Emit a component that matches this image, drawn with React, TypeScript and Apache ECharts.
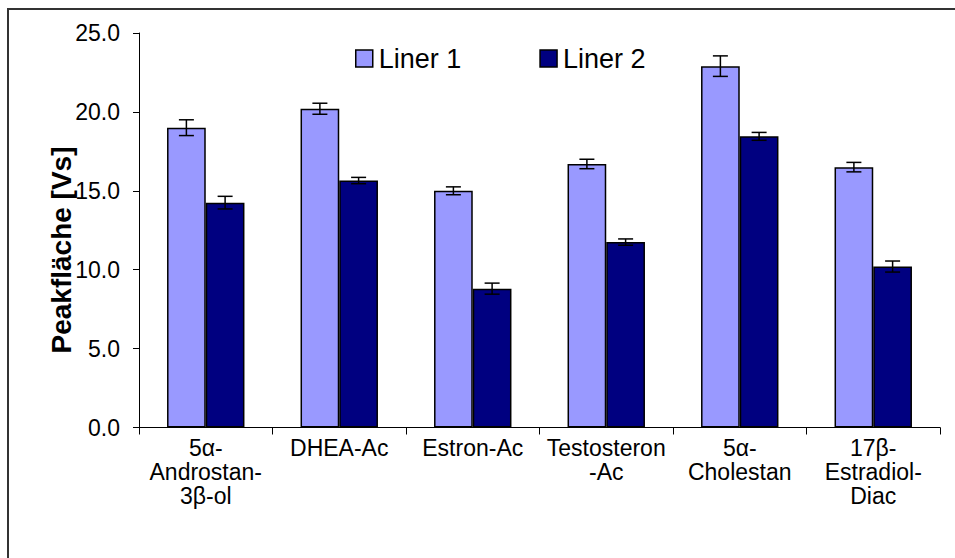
import React, { useEffect, useRef } from "react";
import * as echarts from "echarts";

const categories = [
  "5α-\nAndrostan-\n3β-ol",
  "DHEA-Ac",
  "Estron-Ac",
  "Testosteron\n-Ac",
  "5α-\nCholestan",
  "17β-\nEstradiol-\nDiac",
];
const liner1 = [19.0, 20.2, 15.0, 16.7, 22.9, 16.5];
const liner1Err = [0.5, 0.35, 0.25, 0.3, 0.65, 0.3];
const liner2 = [14.25, 15.65, 8.8, 11.75, 18.45, 10.2];
const liner2Err = [0.4, 0.2, 0.35, 0.2, 0.25, 0.35];
const yTicks = { min: 0, max: 25, interval: 5 };

const FONT = "'Liberation Sans', Arial, sans-serif";
const CAT_GAP = 0.42;

function errorSeries(name: string, vals: number[], errs: number[], side: number) {
  return {
    type: "custom",
    name: name + " err",
    z: 5,
    silent: true,
    encode: { x: 0, y: 1 },
    data: vals.map((v, i) => [i, v, errs[i]]),
    renderItem: (params: any, api: any) => {
      const idx = api.value(0);
      const val = api.value(1);
      const err = api.value(2);
      const band = api.size([1, 0])[0];
      const barW = (band * (1 - CAT_GAP)) / 2;
      const c = api.coord([idx, val]);
      const x = c[0] + side * barW / 2;
      const top = api.coord([idx, val + err])[1];
      const bot = api.coord([idx, val - err])[1];
      const cap = 7.5;
      const st = { stroke: "#000", lineWidth: 1.5 };
      return {
        type: "group",
        children: [
          { type: "line", shape: { x1: x, y1: top, x2: x, y2: bot }, style: st },
          { type: "line", shape: { x1: x - cap, y1: top, x2: x + cap, y2: top }, style: st },
          { type: "line", shape: { x1: x - cap, y1: bot, x2: x + cap, y2: bot }, style: st },
        ],
      };
    },
  };
}

export default function App() {
  const ref = useRef<HTMLDivElement>(null);
  useEffect(() => {
    if (!ref.current) return;
    const chart = echarts.init(ref.current, undefined, { renderer: "svg" });
    chart.setOption({
      animation: false,
      backgroundColor: "#fff",
      textStyle: { fontFamily: FONT },
      grid: { left: 139, right: 15, top: 33, bottom: 130.5, containLabel: false },
      legend: {
        data: ["Liner 1", "Liner 2"],
        left: 350,
        top: 40,
        icon: "rect",
        itemWidth: 17,
        itemHeight: 17,
        itemGap: 78,
        itemStyle: { borderColor: "#000", borderWidth: 1.5 },
        textStyle: { fontSize: 27, color: "#000", fontFamily: FONT, padding: [0, 0, 0, 1] },
      },
      xAxis: {
        type: "category",
        data: categories,
        axisLine: { lineStyle: { color: "#000", width: 1 } },
        axisTick: { show: true, interval: 0, length: 7, lineStyle: { color: "#000" } },
        axisLabel: {
          interval: 0,
          fontSize: 23,
          lineHeight: 24,
          margin: 8,
          color: "#000",
          fontFamily: FONT,
        },
      },
      yAxis: {
        type: "value",
        min: yTicks.min,
        max: yTicks.max,
        interval: yTicks.interval,
        axisLine: { show: true, lineStyle: { color: "#000", width: 1 } },
        axisTick: { show: true, length: 6, lineStyle: { color: "#000" } },
        splitLine: { show: false },
        axisLabel: {
          fontSize: 23,
          color: "#000",
          margin: 19,
          fontFamily: FONT,
          formatter: (v: number) => v.toFixed(1),
        },
      },
      series: [
        {
          type: "bar",
          name: "Liner 1",
          data: liner1,
          barGap: "0%",
          barCategoryGap: "42%",
          itemStyle: { color: "#9999FF", borderColor: "#000", borderWidth: 1.5 },
        },
        {
          type: "bar",
          name: "Liner 2",
          data: liner2,
          barGap: "0%",
          barCategoryGap: "42%",
          itemStyle: { color: "#000080", borderColor: "#000", borderWidth: 1.5 },
        },
        errorSeries("Liner 1", liner1, liner1Err, -1),
        errorSeries("Liner 2", liner2, liner2Err, 1),
      ],
      graphic: [
        {
          type: "rect",
          silent: true,
          shape: { x: 8, y: 9, width: 1200, height: 1000 },
          style: { fill: "none", stroke: "#333", lineWidth: 2 },
          z: 100,
        },
        {
          type: "text",
          x: 61,
          y: 250,
          rotation: Math.PI / 2,
          style: {
            text: "Peakfläche [Vs]",
            font: "bold 28px " + FONT,
            fill: "#000",
            align: "center",
            verticalAlign: "middle",
            textAlign: "center",
            textVerticalAlign: "middle",
          },
        },
      ],
    });
    return () => chart.dispose();
  }, []);
  return (
    <div
      ref={ref}
      style={{ position: "fixed", left: 0, top: 0, width: 955, height: 558, background: "#fff" }}
    />
  );
}
